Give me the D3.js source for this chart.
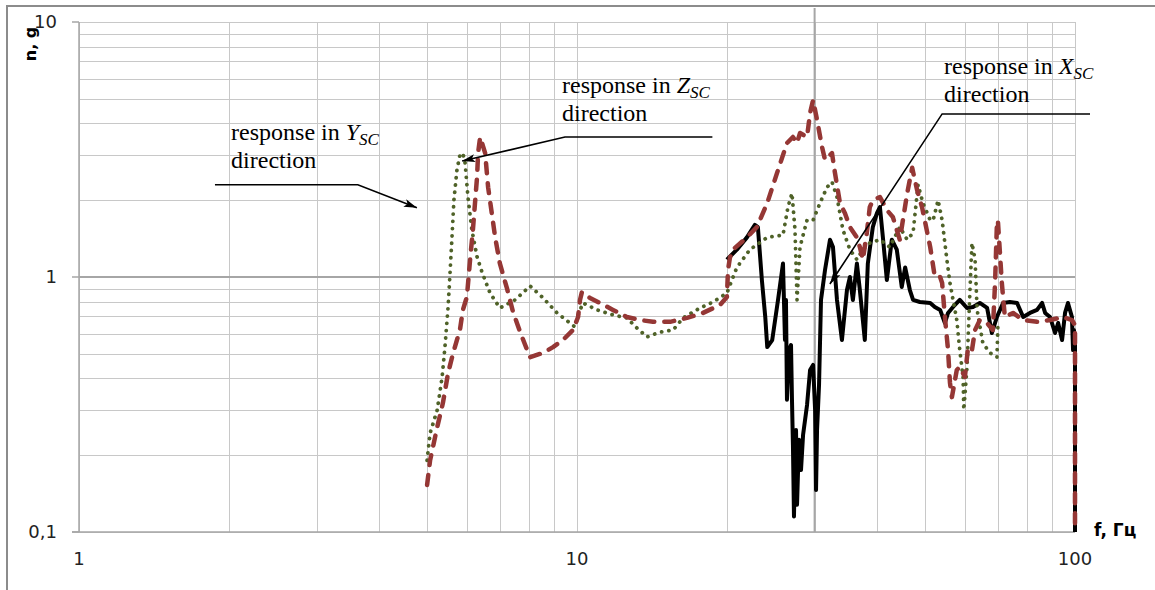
<!DOCTYPE html>
<html>
<head>
<meta charset="utf-8">
<script src="https://cdn.jsdelivr.net/npm/d3@7"></script>
<style>
  body { margin: 0; background: #fff; }
  svg { display: block; }
</style>
</head>
<body>
<div id="viz"></div>
<script>
// response spectra, n (g) versus f (Hz), log-log

// Y_SC direction (green dotted)
var yFreq = [5.00, 5.07, 5.24, 5.36, 5.43, 5.51, 5.56, 5.61, 5.66, 5.74, 5.82, 5.90, 5.96, 6.04, 6.15, 6.30, 6.45, 6.69,
  7.00, 7.51, 8.05, 8.55, 9.12, 9.91, 10.05, 10.28, 10.97, 11.81, 12.59, 13.19, 13.82, 14.68, 15.60, 16.33, 17.66, 18.76,
  20.0, 20.94, 22.24, 24.10, 25.92, 26.52, 27.02, 27.40, 27.66, 28.04, 28.97, 29.79, 30.76, 31.77, 32.51, 33.27, 34.20,
  35.32, 36.48, 37.50, 38.72, 40.58, 42.48, 44.48, 46.03, 47.3, 48.4, 49.5, 51.2, 51.9, 53.1, 54.1, 55.3, 56.1, 56.9,
  57.9, 58.7, 59.6, 59.8, 60.7, 61.5, 62.1, 63.0, 63.6, 65.3, 67.5, 69.7, 70.0];
var yAccel = [0.191, 0.244, 0.301, 0.405, 0.531, 0.763, 1.04, 1.43, 2.00, 2.63, 3.01, 3.06, 2.80, 2.06, 1.53, 1.20, 1.04, 0.865,
  0.756, 0.813, 0.922, 0.828, 0.723, 0.637, 0.710, 0.791, 0.743, 0.710, 0.691, 0.631, 0.582, 0.608, 0.620, 0.691, 0.756, 0.798,
  0.865, 1.09, 1.28, 1.43, 1.46, 1.88, 2.13, 1.53, 0.813, 1.31, 1.67, 1.67, 1.95, 2.25, 2.36, 2.06, 1.53,
  1.28, 1.17, 1.28, 1.36, 1.40, 1.31, 1.57, 1.40, 1.49, 2.30, 1.95, 1.67, 1.67, 2.00, 1.67, 1.17, 0.947, 0.813,
  0.678, 0.517, 0.405, 0.301, 0.444, 0.865, 1.36, 1.17, 0.743, 0.551, 0.504, 0.485, 0.637];

// Z_SC direction (red dashed)
var zFreq = [5.00, 5.07, 5.24, 5.38, 5.51, 5.64, 5.82, 5.90, 6.01, 6.10, 6.18, 6.24, 6.30, 6.33, 6.39, 6.54, 6.63, 6.85,
  7.00, 7.23, 7.44, 7.69, 7.87, 8.05, 8.55, 8.95, 9.37, 9.82, 10.05, 10.14, 10.23, 10.62, 11.12, 11.81, 12.59, 13.39,
  14.21, 15.38, 16.63, 17.91, 19.37, 20.0, 20.1, 20.28, 20.56, 21.94, 22.97, 24.10, 25.22, 26.40, 27.14, 27.66, 28.04,
  28.97, 29.38, 29.79, 30.34, 31.04, 31.48, 32.51, 32.96, 33.73, 34.52, 35.32, 36.48, 36.98, 37.50, 38.19, 38.72, 39.27,
  40.58, 41.90, 43.07, 44.48, 46.03, 47.1, 48.2, 49.3, 51.2, 52.3, 53.6, 54.1, 54.8, 55.6, 56.1, 56.6, 57.9, 58.7,
  60.1, 61.0, 62.1, 63.0, 64.4, 66.6, 68.4, 69.1, 69.7, 70.0, 71.3, 72.3, 75.1, 78.7, 83.9, 89.1, 94.6, 98.6, 100, 100];
var zAccel = [0.153, 0.191, 0.258, 0.321, 0.420, 0.504, 0.620, 0.743, 0.835, 1.17, 1.53, 1.95, 2.47, 3.06, 3.54, 3.06, 2.25, 1.43,
  1.13, 0.906, 0.729, 0.608, 0.541, 0.485, 0.504, 0.531, 0.566, 0.620, 0.697, 0.813, 0.873, 0.828, 0.791, 0.743, 0.697, 0.678,
  0.667, 0.667, 0.691, 0.723, 0.777, 0.835, 1.065, 1.19, 1.28, 1.43, 1.57, 1.95, 2.56, 3.35, 3.54, 3.35, 3.67,
  3.54, 4.40, 4.94, 4.13, 3.24, 2.88, 3.06, 2.56, 1.95, 1.78, 1.57, 1.43, 1.31, 1.17, 1.49, 1.88, 2.00,
  2.06, 1.83, 1.72, 1.40, 2.13, 2.68, 2.19, 1.88, 1.31, 1.00, 1.00, 0.947, 0.697, 0.517, 0.384, 0.338, 0.432, 0.444,
  0.405, 0.531, 0.517, 0.620, 0.678, 0.660, 0.620, 0.947, 1.63, 1.67, 0.947, 0.697, 0.723, 0.678, 0.667, 0.678, 0.697, 0.678, 0.648, 0.1];

// X_SC direction (black solid)
var xFreq = [20.0, 20.94, 21.94, 22.76, 23.08, 23.51, 23.88, 24.10, 24.66, 25.33, 25.92, 26.16, 26.28, 26.40, 26.65, 26.9,
  27.02, 27.14, 27.27, 27.40, 27.53, 27.66, 27.91, 28.17, 28.44, 28.97, 29.38, 29.79, 30.07, 30.20, 30.34, 30.62, 30.9,
  31.48, 32.21, 32.66, 33.27, 34.04, 34.84, 35.32, 35.81, 36.48, 36.98, 37.84, 38.37, 39.27, 40.02, 40.58, 41.14, 41.90,
  42.87, 43.87, 44.89, 45.60, 46.6, 47.3, 48.8, 51.2, 52.3, 53.6, 54.8, 55.6, 56.9, 58.7, 60.7, 62.4, 64.4, 66.6, 68.1,
  69.7, 71.7, 74.0, 76.5, 78.7, 81.2, 83.9, 85.9, 87.1, 89.1, 91.2, 92.5, 94.2, 95.5, 96.8, 98.6, 99.1, 99.5, 100, 100];
var xAccel = [1.17, 1.28, 1.43, 1.60, 1.57, 0.973, 0.697, 0.531, 0.566, 0.813, 1.13, 0.566, 0.813, 0.330, 0.517, 0.541,
  0.330, 0.219, 0.115, 0.191, 0.251, 0.128, 0.230, 0.175, 0.240, 0.315, 0.432, 0.452, 0.301, 0.146, 0.251, 0.377, 0.813,
  1.065, 1.40, 1.31, 0.813, 0.566, 0.889, 1.00, 0.813, 1.13, 0.889, 0.566, 1.13, 1.57, 1.78, 1.88, 1.43, 0.973,
  1.40, 1.28, 0.914, 1.09, 0.889, 0.813, 0.798, 0.791, 0.763, 0.743, 0.660, 0.723, 0.763, 0.813, 0.756, 0.763, 0.791, 0.756, 0.603,
  0.697, 0.791, 0.798, 0.791, 0.697, 0.723, 0.743, 0.791, 0.723, 0.697, 0.603, 0.660, 0.566, 0.723, 0.791, 0.697, 0.517, 0.620, 0.566, 0.1];

var xTickLabels = ['1', '10', '100'];
var yTickLabels = ['0,1', '1', '10'];

var W = 1155, H = 590;
var svg = d3.select('#viz').append('svg').attr('width', W).attr('height', H);

var x = d3.scaleLog().domain([1, 100]).range([79, 1075]);
var y = d3.scaleLog().domain([0.1, 10]).range([532, 22]);

// outer frame (only top and left show)
svg.append('path')
  .attr('d', 'M7,' + H + 'V6H' + W)
  .attr('fill', 'none').attr('stroke', '#8c8c8c').attr('stroke-width', 2);

// grid
var xGrid = [], yGrid = [];
[1, 10].forEach(function(d) { for (var k = 1; k <= 9; k++) xGrid.push(k * d); });
xGrid.push(100);
[0.1, 1].forEach(function(d) { for (var k = 1; k <= 9; k++) yGrid.push(k * d); });
yGrid.push(10);

var grid = svg.append('g').attr('stroke', '#c8c8c8').attr('stroke-width', 1.2).attr('shape-rendering', 'crispEdges');
grid.selectAll('.gx').data(xGrid).enter().append('line')
  .attr('x1', function(d) { return Math.round(x(d)) + 0.5; })
  .attr('x2', function(d) { return Math.round(x(d)) + 0.5; })
  .attr('y1', y(10)).attr('y2', y(0.1));
grid.selectAll('.gy').data(yGrid).enter().append('line')
  .attr('x1', x(1)).attr('x2', x(100))
  .attr('y1', function(d) { return Math.round(y(d)) + 0.5; })
  .attr('y2', function(d) { return Math.round(y(d)) + 0.5; });

// heavier lines at n = 1 and f = 30
svg.append('line').attr('x1', x(1)).attr('x2', x(100)).attr('y1', y(1)).attr('y2', y(1))
  .attr('stroke', '#a6a6a6').attr('stroke-width', 2);
svg.append('line').attr('x1', x(30)).attr('x2', x(30)).attr('y1', y(10) - 14).attr('y2', y(0.1))
  .attr('stroke', '#a6a6a6').attr('stroke-width', 2);

// axes lines + ticks
var ax = svg.append('g').attr('stroke', '#a6a6a6').attr('stroke-width', 1.5);
ax.append('line').attr('x1', x(1)).attr('x2', x(1)).attr('y1', y(10)).attr('y2', y(0.1));
ax.append('line').attr('x1', x(1) - 7).attr('x2', x(100)).attr('y1', y(0.1)).attr('y2', y(0.1));
ax.selectAll('.yt').data([0.1, 1, 10]).enter().append('line')
  .attr('x1', x(1) - 7).attr('x2', x(1)).attr('y1', function(d) { return y(d); }).attr('y2', function(d) { return y(d); });

// tick labels
svg.selectAll('.xl').data([1, 10, 100]).enter().append('text')
  .attr('x', function(d) { return x(d); }).attr('y', 565)
  .attr('text-anchor', 'middle')
  .style('font-family', 'DejaVu Sans').style('font-size', '18px').attr('fill', '#222')
  .text(function(d, i) { return xTickLabels[i]; });
svg.selectAll('.yl').data([0.1, 1, 10]).enter().append('text')
  .attr('x', 57).attr('y', function(d) { return y(d) + 6; })
  .attr('text-anchor', 'end')
  .style('font-family', 'DejaVu Sans').style('font-size', '18px').attr('fill', '#222')
  .text(function(d, i) { return yTickLabels[i]; });

// axis titles
svg.append('text').attr('transform', 'translate(36,44) rotate(-90)')
  .attr('text-anchor', 'middle')
  .style('font-family', 'DejaVu Sans').style('font-size', '16px').style('font-weight', 'bold')
  .text('n, g');
svg.append('text').attr('x', 1094).attr('y', 536)
  .style('font-family', 'DejaVu Sans').style('font-size', '17px').style('font-weight', 'bold')
  .text('f, Гц');

// series
var line = d3.line().x(function(d) { return x(d[0]); }).y(function(d) { return y(d[1]); });
function pts(f, a) { return f.map(function(v, i) { return [v, a[i]]; }); }

svg.append('path').datum(pts(xFreq, xAccel)).attr('d', line)
  .attr('fill', 'none').attr('stroke', '#000').attr('stroke-width', 4)
  .attr('stroke-linejoin', 'round');
svg.append('path').datum(pts(yFreq, yAccel)).attr('d', line)
  .attr('fill', 'none').attr('stroke', '#4f6228').attr('stroke-width', 3.8)
  .attr('stroke-dasharray', '0.1,7.2').attr('stroke-linecap', 'round').attr('stroke-linejoin', 'round');
svg.append('path').datum(pts(zFreq, zAccel)).attr('d', line)
  .attr('fill', 'none').attr('stroke', '#953735').attr('stroke-width', 4.5)
  .attr('stroke-dasharray', '10,10').attr('stroke-linecap', 'round').attr('stroke-linejoin', 'round');

// annotations: text anchor, elbow line, arrow tip (data units)
var notes = [
  { tf: 2.02, tn: 3.45, f0: 1.875, f1: 3.63, n1: 2.30, tipF: 4.77, tipN: 1.87, axis: 'Y' },
  { tf: 9.33, tn: 5.25, f0: 18.7, f1: 9.46, n1: 3.54, tipF: 5.88, tipN: 2.85, axis: 'Z' },
  { tf: 54.6, tn: 6.25, f0: 107.2, f1: 54.1, n1: 4.36, tipF: 32.2, tipN: 0.939, axis: 'X' }
];

var defs = svg.append('defs');
defs.append('marker').attr('id', 'arr')
  .attr('markerUnits', 'userSpaceOnUse').attr('markerWidth', 14).attr('markerHeight', 10)
  .attr('refX', 13).attr('refY', 5).attr('orient', 'auto')
  .append('path').attr('d', 'M0,1 L13,5 L0,9 L3,5 Z').attr('fill', '#000');

var ann = svg.append('g');
notes.forEach(function(a) {
  ann.append('polyline')
    .attr('points', [[x(a.f0), y(a.n1)], [x(a.f1), y(a.n1)], [x(a.tipF), y(a.tipN)]].join(' '))
    .attr('fill', 'none').attr('stroke', '#000').attr('stroke-width', 1.6)
    .attr('marker-end', 'url(#arr)');
  var t = ann.append('text').attr('x', x(a.tf)).attr('y', y(a.tn))
    .style('font-family', 'Liberation Serif').style('font-size', '24px').attr('fill', '#000');
  t.append('tspan').text('response in ');
  t.append('tspan').style('font-style', 'italic').text(a.axis);
  t.append('tspan').style('font-style', 'italic').style('font-size', '17px').attr('dy', 5).text('SC');
  ann.append('text').attr('x', x(a.tf)).attr('y', y(a.tn) + 28)
    .style('font-family', 'Liberation Serif').style('font-size', '24px').attr('fill', '#000')
    .text('direction');
});
</script>
</body>
</html>
